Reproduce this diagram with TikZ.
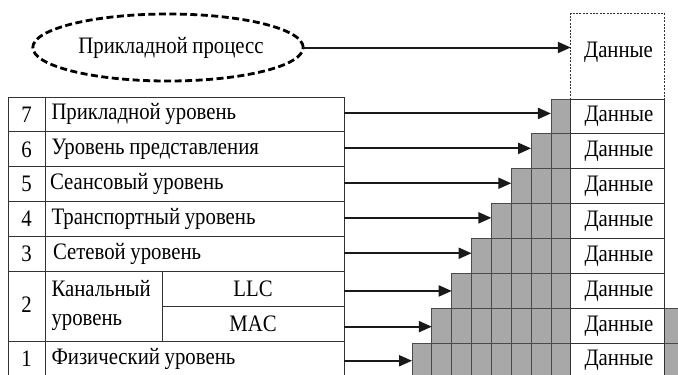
\documentclass[tikz,border=0pt]{standalone}
\usepackage{fontspec}
\setmainfont{Liberation Serif}[FakeStretch=0.88,WordSpace=0.9]
\usetikzlibrary{arrows.meta,shapes.geometric}
\definecolor{cellgray}{HTML}{A8A8A8}
\definecolor{gridline}{HTML}{4A4A4A}
\definecolor{tblline}{HTML}{333333}
\begin{document}
\begin{tikzpicture}[x=1pt,y=-1pt,
  every node/.style={font=\fontsize{23.6}{27}\selectfont, inner sep=0pt, outer sep=0pt},
  tcell/.style={draw=tblline, line width=0.9pt, anchor=north west, minimum height=34.9pt},
  numcell/.style={tcell, minimum width=37pt},
  namecell/.style={tcell, minimum width=299pt},
  lbl/.style={anchor=west},
  gcell/.style={draw=gridline, fill=cellgray, line width=0.9pt, anchor=north west, minimum width=19.85pt, minimum height=34.9pt},
  dcell/.style={draw=tblline, fill=white, line width=0.9pt, anchor=north west, minimum width=93.2pt, minimum height=34.9pt},
  arr/.style={line width=2pt, draw=black!90, -{Triangle[length=13pt,width=11pt]}},
]
\useasboundingbox (0,0) rectangle (678,375);
\clip (0,0) rectangle (678,375);

% top: application process
\node[ellipse, draw=black, line width=2.8pt, dash pattern=on 7pt off 3.5pt,
      minimum width=262pt, minimum height=67pt] (proc) at (168,47.5) {\hspace*{6pt}Прикладной процесс};
\node[draw=tblline, line width=0.8pt, dash pattern=on 2pt off 1.4pt, anchor=north west,
      minimum width=93.2pt, minimum height=86pt] (dtop) at (570.8,13) {};
\node (dtoptext) at (618.5,52) {Данные};
\draw[arr] (proc.east) -- (proc.east -| dtop.west);

% gray staircase
\foreach \r in {0,...,7}{
  \pgfmathtruncatemacro{\jstart}{7-\r}
  \foreach \j in {\jstart,...,7}{
    \node[gcell] (c-\r-\j) at ({412+19.85*\j},{99+34.9*\r}) {};
  }
}
% trailer cells on the right
\node[gcell, minimum width=30pt] (t6) at (664,{99+34.9*6}) {};
\node[gcell, minimum width=30pt] (t7) at (664,{99+34.9*7}) {};

% data boxes
\foreach \r in {0,...,7}{
  \node[dcell, text width=93.2pt, align=center, inner xsep=0pt] (d\r) at (570.8,{99+34.9*\r}) {\hspace*{3pt}Данные};
}

% table
\node[numcell] (n7) at (8,97) {7};
\node[namecell] (r7) at (45,97) {};
\node[lbl] (r7t) at ([xshift=6.5pt]r7.west) {Прикладной уровень};
\node[numcell] (n6) at (8,131.9) {6};
\node[namecell] (r6) at (45,131.9) {};
\node[lbl] (r6t) at ([xshift=6.5pt]r6.west) {Уровень представления};
\node[numcell] (n5) at (8,166.8) {5};
\node[namecell] (r5) at (45,166.8) {};
\node[lbl] (r5t) at ([xshift=5pt]r5.west) {Сеансовый уровень};
\node[numcell] (n4) at (8,201.7) {4};
\node[namecell] (r4) at (45,201.7) {};
\node[lbl] (r4t) at ([xshift=6.5pt]r4.west) {Транспортный уровень};
\node[numcell] (n3) at (8,236.6) {3};
\node[namecell] (r3) at (45,236.6) {};
\node[lbl] (r3t) at ([xshift=8pt]r3.west) {Сетевой уровень};
\node[numcell, minimum height=69.8pt] (n2) at (8,271.5) {\raisebox{4pt}{2}};
\node[tcell, minimum height=69.8pt, minimum width=117pt] (r2) at (45,271.5) {};
\node[lbl, align=left, font=\fontsize{23.6}{29.5}\selectfont] (r2t) at ([xshift=6.5pt,yshift=1pt]r2.west) {Канальный\\уровень};
\node[tcell, minimum width=182pt] (llc) at (162,271.5) {LLC};
\node[tcell, minimum width=182pt] (mac) at (162,306.4) {MAC};
\node[numcell] (n1) at (8,341.3) {1};
\node[namecell] (r1) at (45,341.3) {};
\node[lbl] (r1t) at ([xshift=6.5pt]r1.west) {Физический уровень};

% arrows
\draw[arr] ([yshift=1pt]r7.east) -- ([yshift=1pt]r7.east -| c-0-7.west);
\draw[arr] ([yshift=1pt]r6.east) -- ([yshift=1pt]r6.east -| c-1-6.west);
\draw[arr] ([yshift=1pt]r5.east) -- ([yshift=1pt]r5.east -| c-2-5.west);
\draw[arr] ([yshift=1.3pt]r4.east) -- ([yshift=1.3pt]r4.east -| c-3-4.west);
\draw[arr] ([yshift=0.8pt]r3.east) -- ([yshift=0.8pt]r3.east -| c-4-3.west);
\draw[arr] ([yshift=-2pt]llc.east) -- ([yshift=-2pt]llc.east -| c-5-2.west);
\draw[arr] ([yshift=-2.8pt]mac.east) -- ([yshift=-2.8pt]mac.east -| c-6-1.west);
\draw[arr] ([yshift=-2pt]r1.east) -- ([yshift=-2pt]r1.east -| c-7-0.west);
\end{tikzpicture}
\end{document}
